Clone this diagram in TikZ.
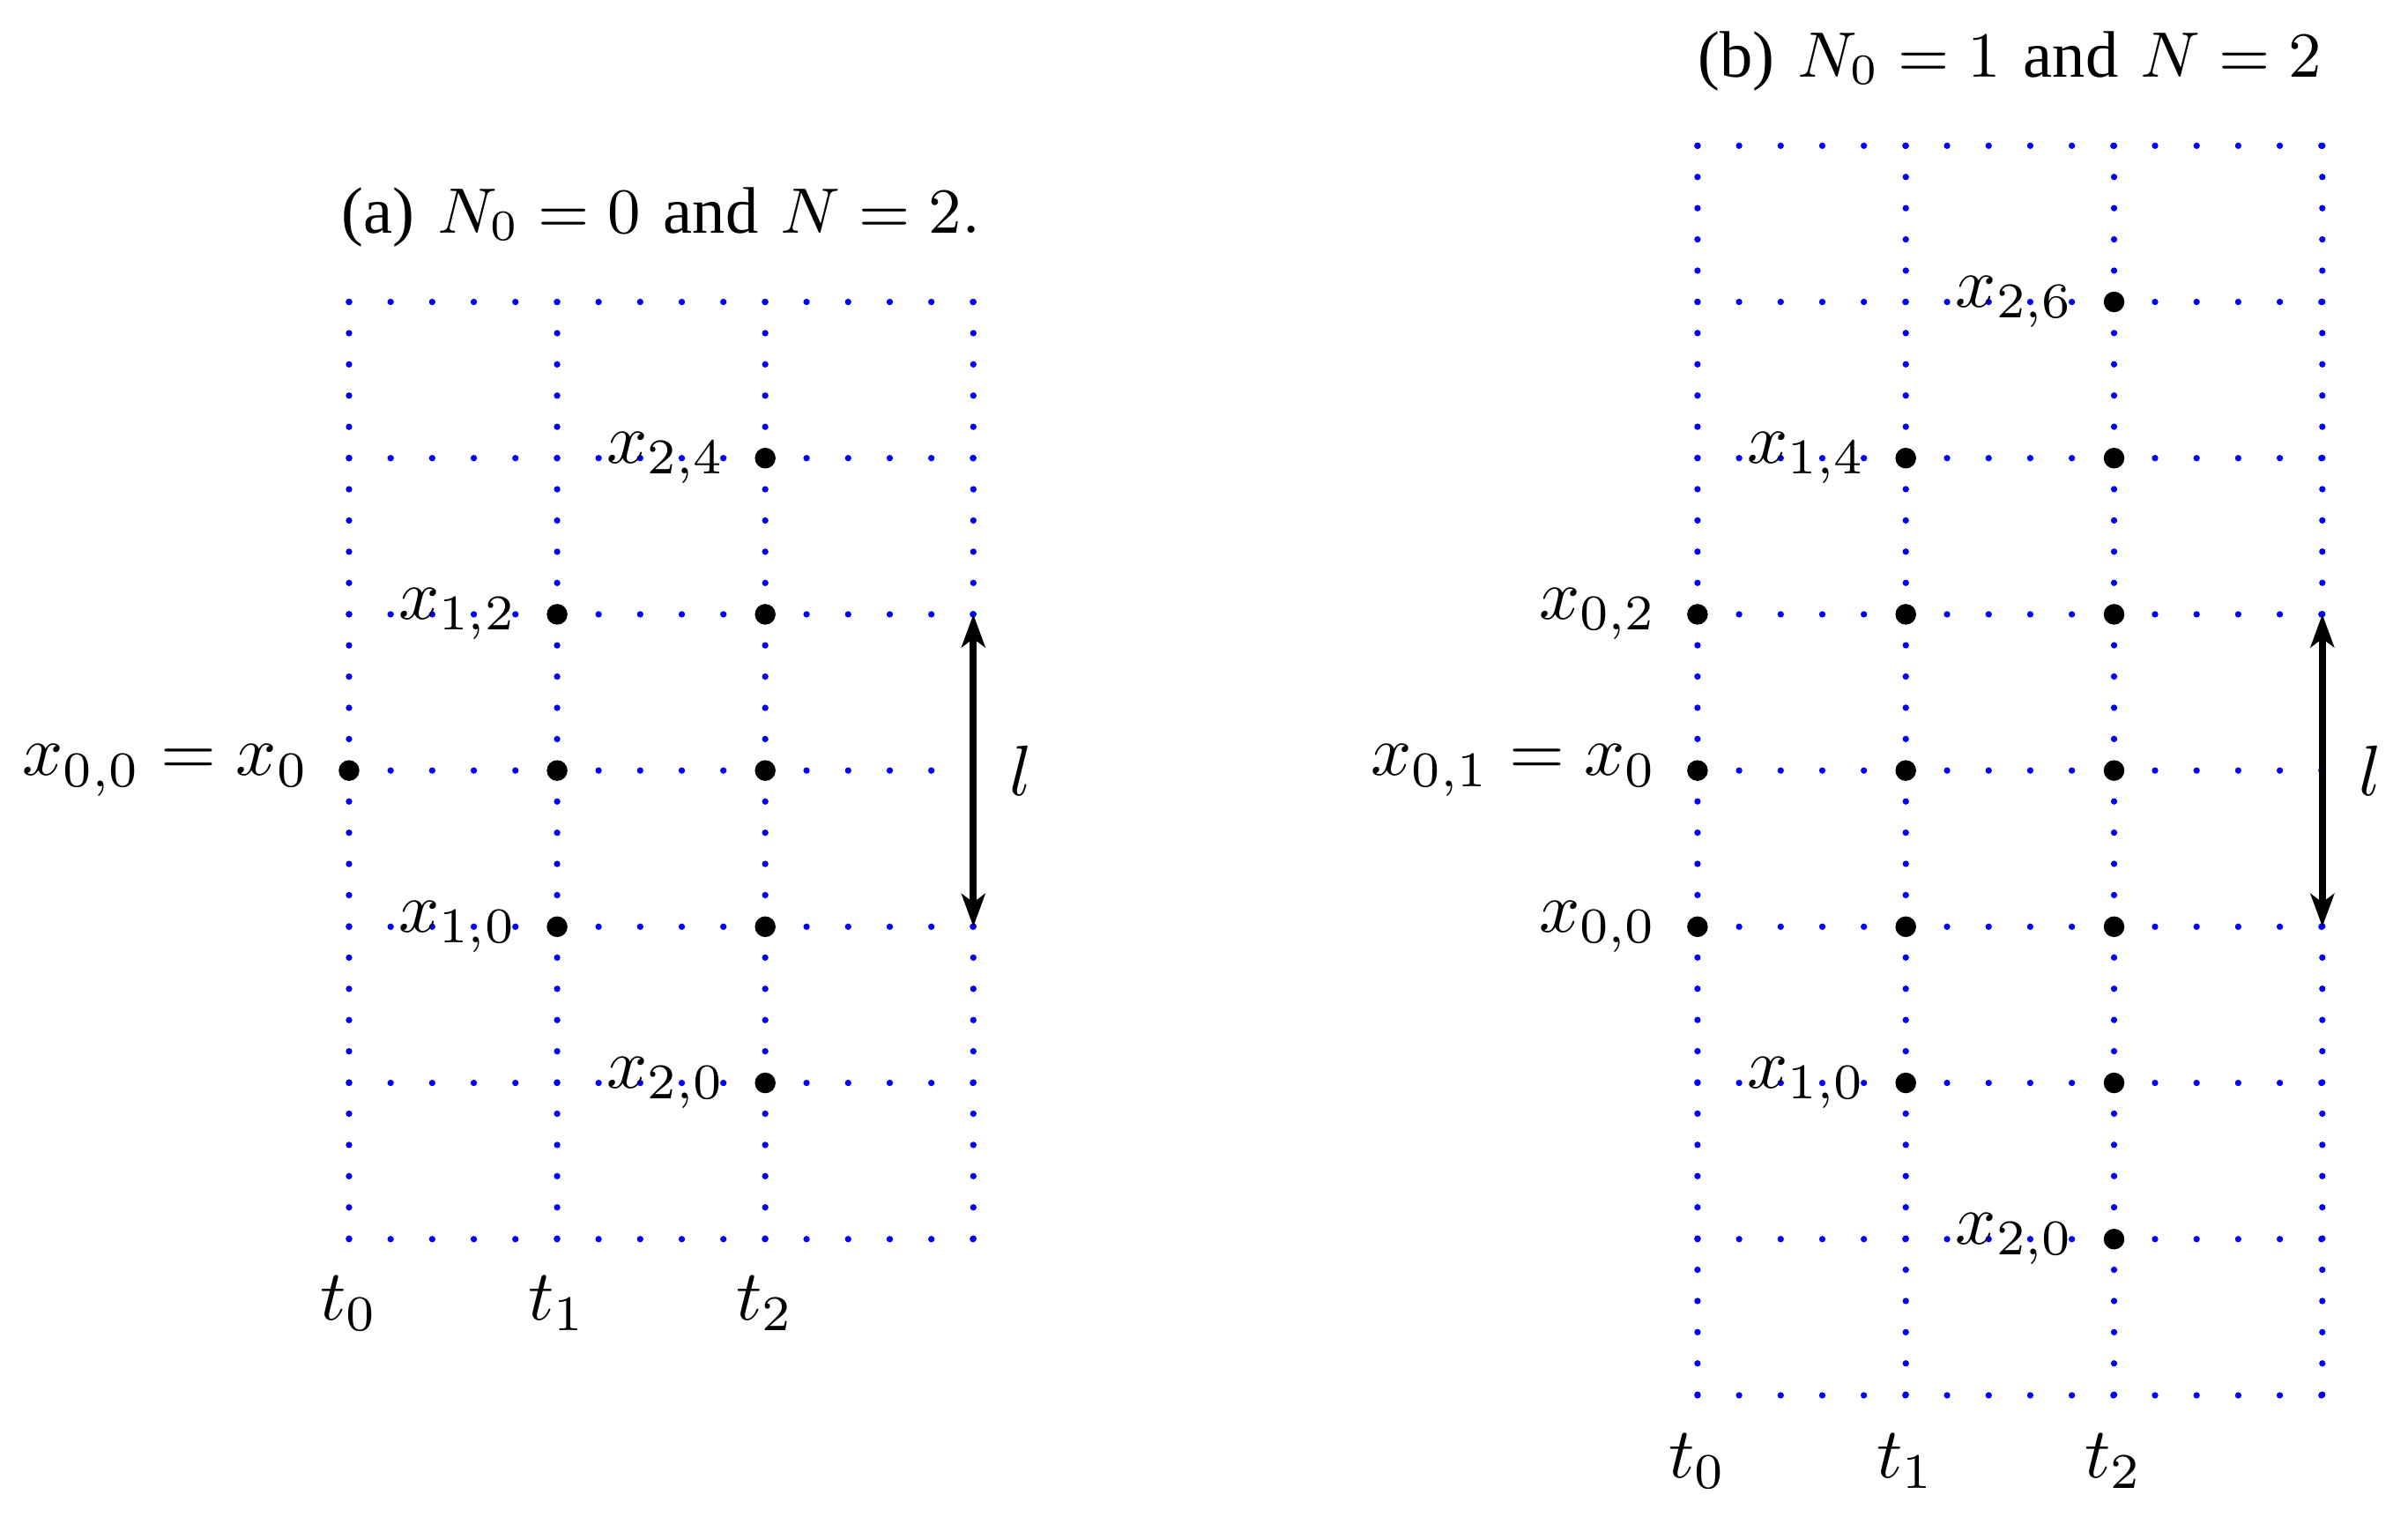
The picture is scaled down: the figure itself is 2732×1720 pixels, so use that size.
\documentclass[tikz,border=0pt]{standalone}
\usepackage{fontspec}
\newfontfamily\tfont{Liberation Serif}
\usetikzlibrary{arrows.meta}
\tikzset{
  hline/.style={blue, line width=0.9pt, line cap=round, dash pattern=on 0pt off 5.826pt},
  vline/.style={blue, line width=0.9pt, line cap=round, dash pattern=on 0pt off 4.373pt},
  gdot/.style={circle, fill=black, inner sep=0pt, minimum size=2.9pt},
  lab/.style={anchor=east, inner sep=0pt, xshift=-5.43pt},
  tlab/.style={anchor=base, inner sep=0pt},
  ttl/.style={anchor=base, inner sep=0pt, font=\fontsize{9.2}{11}\selectfont},
  darrow/.style={{Stealth[length=4.6pt,width=3.3pt,inset=1.2pt]}-{Stealth[length=4.6pt,width=3.3pt,inset=1.2pt]}, line width=1pt}
}
\begin{document}
\begin{tikzpicture}[x=0.123457pt, y=-0.123457pt]
\useasboundingbox (0,0) rectangle (2732,1720);
% ---------- (a) ----------
\foreach \y in {342.5,519.7,696.9,874.1,1051.3,1228.5,1405.7}
  \draw[hline] (396.0,\y) -- (1104.3,\y);
\foreach \x in {396.0,632.1,868.2,1104.3}
  \draw[vline] (\x,342.5) -- (\x,1405.7);
\node[ttl] (ta) at (750.2,264) {{\tfont(a)} $N_0=0$ {\tfont and} $N=2$.};
\node[gdot] (a24) at (868.2,519.7) {};
\node[gdot] (a12) at (632.1,696.9) {};
\node[gdot] (a22) at (868.2,696.9) {};
\node[gdot] (a00) at (396.0,874.1) {};
\node[gdot] (a11) at (632.1,874.1) {};
\node[gdot] (a21) at (868.2,874.1) {};
\node[gdot] (a10) at (632.1,1051.3) {};
\node[gdot] (a2m) at (868.2,1051.3) {};
\node[gdot] (a20) at (868.2,1228.5) {};
\node[lab] (la24) at (a24.center) {$x_{2,4}$};
\node[lab] (la12) at (a12.center) {$x_{1,2}$};
\node[lab] (la00) at (a00.center) {$x_{0,0}=x_0$};
\node[lab] (la10) at (a10.center) {$x_{1,0}$};
\node[lab] (la20) at (a20.center) {$x_{2,0}$};
\node[tlab] (at0) at (396.0,1497.7) {$t_0$};
\node[tlab] (at1) at (632.1,1497.7) {$t_1$};
\node[tlab] (at2) at (868.2,1497.7) {$t_2$};
\coordinate (aup) at (1104.3,696.9);
\coordinate (adn) at (1104.3,1051.3);
\draw[darrow] (adn) -- (aup);
\node[tlab] (al) at (1158,902) {$l$};
% ---------- (b) ----------
\foreach \y in {165.3,342.5,519.7,696.9,874.1,1051.3,1228.5,1405.7,1582.9}
  \draw[hline] (1925.9,\y) -- (2634.8,\y);
\foreach \x in {1925.9,2162.2,2398.5,2634.8}
  \draw[vline] (\x,165.3) -- (\x,1582.9);
\node[ttl] (tb) at (2280.4,87) {{\tfont(b)} $N_0=1$ {\tfont and} $N=2$};
\node[gdot] (b26) at (2398.5,342.5) {};
\node[gdot] (b14) at (2162.2,519.7) {};
\node[gdot] (b24) at (2398.5,519.7) {};
\node[gdot] (b02) at (1925.9,696.9) {};
\node[gdot] (b12) at (2162.2,696.9) {};
\node[gdot] (b22) at (2398.5,696.9) {};
\node[gdot] (b01) at (1925.9,874.1) {};
\node[gdot] (b11) at (2162.2,874.1) {};
\node[gdot] (b21) at (2398.5,874.1) {};
\node[gdot] (b00) at (1925.9,1051.3) {};
\node[gdot] (b1m) at (2162.2,1051.3) {};
\node[gdot] (b2m) at (2398.5,1051.3) {};
\node[gdot] (b10) at (2162.2,1228.5) {};
\node[gdot] (b2n) at (2398.5,1228.5) {};
\node[gdot] (b20) at (2398.5,1405.7) {};
\node[lab] (lb26) at (b26.center) {$x_{2,6}$};
\node[lab] (lb14) at (b14.center) {$x_{1,4}$};
\node[lab] (lb02) at (b02.center) {$x_{0,2}$};
\node[lab] (lb01) at (b01.center) {$x_{0,1}=x_0$};
\node[lab] (lb00) at (b00.center) {$x_{0,0}$};
\node[lab] (lb10) at (b10.center) {$x_{1,0}$};
\node[lab] (lb20) at (b20.center) {$x_{2,0}$};
\node[tlab] (bt0) at (1925.9,1676) {$t_0$};
\node[tlab] (bt1) at (2162.2,1676) {$t_1$};
\node[tlab] (bt2) at (2398.5,1676) {$t_2$};
\coordinate (bup) at (2634.8,696.9);
\coordinate (bdn) at (2634.8,1051.3);
\draw[darrow] (bdn) -- (bup);
\node[tlab] (bl) at (2689,902) {$l$};
\end{tikzpicture}
\end{document}
